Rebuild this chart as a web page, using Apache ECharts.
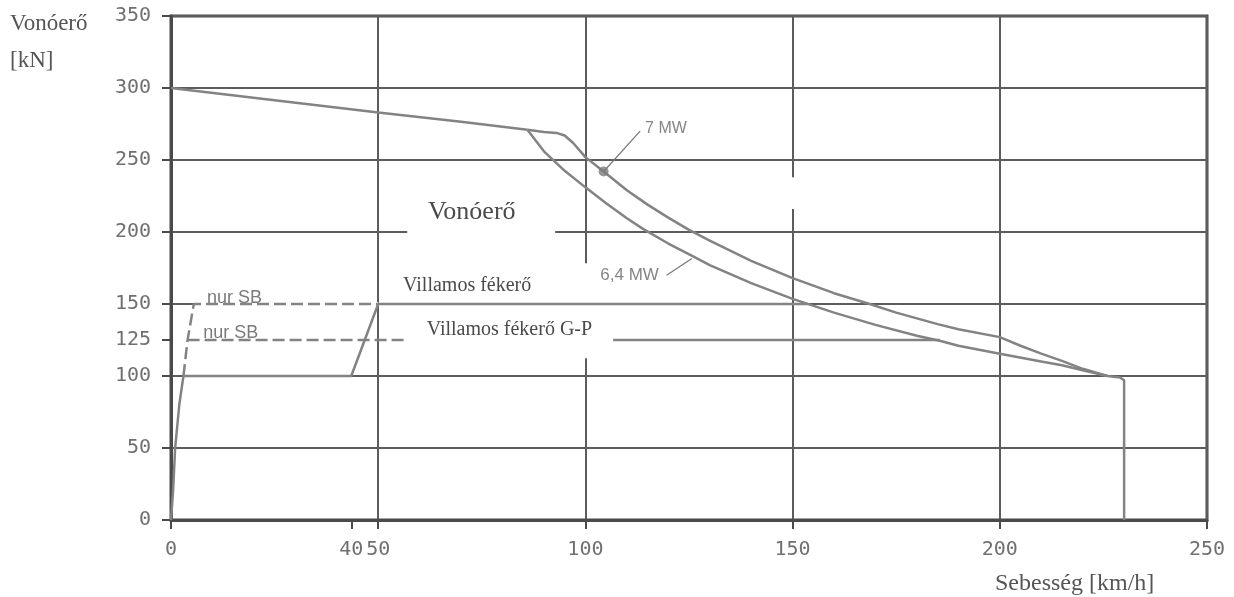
<!DOCTYPE html>
<html><head><meta charset="utf-8">
<script src="https://cdn.jsdelivr.net/npm/echarts@6/dist/echarts.min.js"></script>
<style>html,body{margin:0;padding:0;background:#fff}#c{width:1234px;height:597px}</style>
</head><body><div id="c"></div>
<script>
// ---- data ----
const xExtraTickValues = [43.5];
const xExtraTickLabels = ['40'];
const yExtraTickValues = [125];
const tractionCommon = [[0,300],[25,291.5],[50,283],[70,276.5],[86,271]];
const traction7MW = [[86,271],[90,269.5],[93,268.8],[95,267],[97,262],[100,252],[104.4,242],[110,229],[115,219],[120,210],[125,201.5],[130,194],[140,180],[150,168],[160,157.5],[168.6,150],[175,144],[185,136],[190,132.5],[200,127],[205,121],[210,115.5],[215,110.5],[220,105],[226,100],[229,99],[230,97],[230,0]];
const traction64MW = [[86,271],[90,256],[95,242.5],[100,231],[105,220],[110,209.5],[114,202],[120,192],[126,183],[130,177],[140,164.5],[150,153.6],[160,144],[170,135.5],[180,128],[185.5,124.5],[190,121],[200,115.5],[210,110],[215,107.5],[220,104],[226,100]];
const startRamp = [[0,0],[0.5,20],[1,50],[2,80],[3,100]];
const brakeElectric = [[3,100],[43.5,100],[50,150],[153.6,150]];
const brakeGP = [[106.7,125],[185.5,125]];
const nurSB150 = [[3,100],[4,125],[5.5,150],[50,150]];
const nurSB125 = [[4,125],[57,125]];
const point7MW = [[104.4,242]];
const leader7MW = [[104.4,242],[113.2,270]];
const leader64MW = [[119.6,170],[125.7,181.6]];

// ---- styles ----
const lineCol = '#838383';
const gridCol = '#5c5c5c';
const axisCol = '#4a4a4a';
const tickFont = {fontFamily:'DejaVu Sans Mono', fontSize:20, color:'#707070'};
const gridBox = {left:171, right:27, top:16, bottom:77};

const chart = echarts.init(document.getElementById('c'));

function lineSeries(data, opts) {
  return Object.assign({
    type:'line', data:data, symbol:'none', silent:true, z:3,
    lineStyle:{color:lineCol, width:2.5}
  }, opts || {});
}

chart.setOption({
  animation:false,
  grid:[
    Object.assign({show:true, borderColor:axisCol, borderWidth:3}, gridBox),
    Object.assign({show:false}, gridBox)
  ],
  xAxis:[{
    type:'value', gridIndex:0, min:0, max:250, interval:50,
    axisLine:{show:true, onZero:false, lineStyle:{color:axisCol, width:3}},
    axisTick:{show:true, length:9, lineStyle:{color:axisCol, width:2}},
    axisLabel:Object.assign({margin:20}, tickFont),
    splitLine:{show:true, lineStyle:{color:gridCol, width:2}}
  },{
    type:'value', gridIndex:1, min:0, max:250,
    axisLine:{show:false, onZero:false},
    axisTick:{show:true, length:9, customValues:xExtraTickValues, lineStyle:{color:axisCol, width:2}},
    axisLabel:Object.assign({customValues:xExtraTickValues, margin:20,
      formatter:function(v){ const i = xExtraTickValues.indexOf(v); return i >= 0 ? xExtraTickLabels[i] : ''; }}, tickFont),
    splitLine:{show:false}
  }],
  yAxis:[{
    type:'value', gridIndex:0, min:0, max:350, interval:50,
    axisLine:{show:true, onZero:false, lineStyle:{color:axisCol, width:3}},
    axisTick:{show:true, length:9, lineStyle:{color:axisCol, width:2}},
    axisLabel:Object.assign({margin:20}, tickFont),
    splitLine:{show:true, lineStyle:{color:gridCol, width:2}}
  },{
    type:'value', gridIndex:1, min:0, max:350,
    axisLine:{show:false, onZero:false},
    axisTick:{show:true, length:9, customValues:yExtraTickValues, lineStyle:{color:axisCol, width:2}},
    axisLabel:Object.assign({customValues:yExtraTickValues, margin:20}, tickFont),
    splitLine:{show:false}
  }],
  series:[
    lineSeries(tractionCommon),
    lineSeries(traction7MW),
    lineSeries(traction64MW),
    lineSeries(startRamp),
    lineSeries(brakeElectric),
    lineSeries(brakeGP),
    lineSeries(nurSB150.slice(2), {z:2, lineStyle:{color:'#ffffff', width:4}}),
    lineSeries(nurSB150, {lineStyle:{color:lineCol, width:2.5, type:[12,5]}}),
    lineSeries(nurSB125, {lineStyle:{color:lineCol, width:2.5, type:[12,5]}}),
    lineSeries(leader7MW, {lineStyle:{color:'#777', width:1.2}}),
    lineSeries(leader64MW, {lineStyle:{color:'#777', width:1.2}}),
    {type:'scatter', data:point7MW, symbol:'circle', symbolSize:10, z:4, silent:true,
     itemStyle:{color:'#7a7a7a'}}
  ]
});

const P = (x, y) => chart.convertToPixel({gridIndex:0}, [x, y]);
function box(x1, y1, x2, y2) {
  const a = P(x1, y1), b = P(x2, y2);
  return {type:'rect', z:1, silent:true,
    shape:{x:a[0], y:a[1], width:b[0]-a[0], height:b[1]-a[1]},
    style:{fill:'#ffffff'}};
}
function label(text, x, y, font, color, valign) {
  const p = P(x, y);
  return {type:'text', z:10, silent:true, x:p[0], y:p[1],
    style:{text:text, font:font, fill:color, align:'left', verticalAlign:valign || 'middle'}};
}
const serif = 'Liberation Serif';
const sans = 'Liberation Sans';
chart.setOption({graphic:[
  box(57, 225.5, 92.7, 194.3),
  box(57, 178.3, 106.7, 112.4),
  box(148, 238, 152.5, 216),
  label('Vonóerő', 62, 213.7, '26px "' + serif + '"', '#4a4a4a'),
  label('Villamos fékerő', 56, 163, '20px "' + serif + '"', '#4a4a4a'),
  label('Villamos fékerő G-P', 61.7, 132, '20px "' + serif + '"', '#4a4a4a'),
  label('nur SB', 8.7, 148, '18px "' + sans + '"', '#7a7a7a', 'bottom'),
  label('nur SB', 7.8, 123.5, '18px "' + sans + '"', '#7a7a7a', 'bottom'),
  label('7 MW', 114.4, 271.7, '16px "' + sans + '"', '#858585'),
  label('6,4 MW', 103.6, 170, '17px "' + sans + '"', '#858585'),
  {type:'text', z:10, silent:true, x:10, y:35,
   style:{text:'Vonóerő', font:'23px "' + serif + '"', fill:'#555', verticalAlign:'bottom'}},
  {type:'text', z:10, silent:true, x:10, y:72,
   style:{text:'[kN]', font:'23px "' + serif + '"', fill:'#555', verticalAlign:'bottom'}},
  {type:'text', z:10, silent:true, x:995, y:596,
   style:{text:'Sebesség [km/h]', font:'24px "' + serif + '"', fill:'#555', verticalAlign:'bottom'}}
]});
</script>
</body></html>
